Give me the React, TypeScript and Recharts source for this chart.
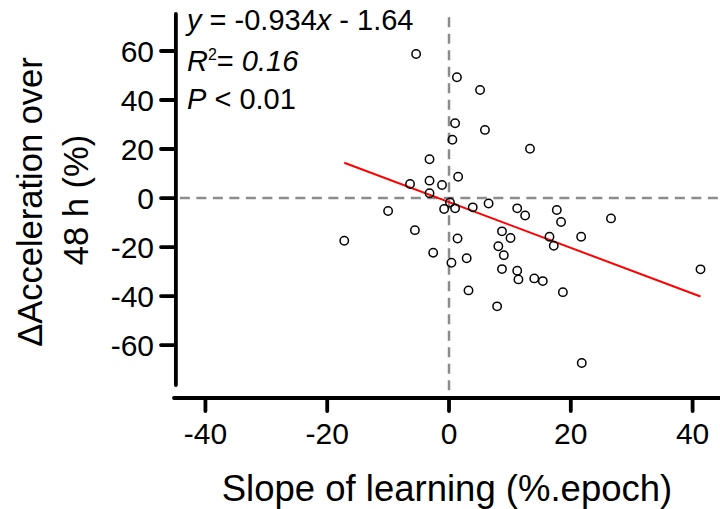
// Learning slope vs change in acceleration, scatter with fitted line (Recharts)

import { ScatterChart, Scatter, XAxis, YAxis, ReferenceLine, Customized } from 'recharts';

// slope of learning (%.epoch) for each subject
const slopeOfLearning = [
  -5.4, 1.3, 5.1, 1.0, 5.9, 0.55, 13.3, -3.2, 1.5, -6.4, -3.2, -1.15,
  -3.2, 0.16, -0.8, 1.0, 3.9, 6.5, -10.0, -17.2, -5.6, -2.6, 1.4, 0.4,
  2.9, 3.2, 11.2, 12.5, 8.7, 10.1, 8.1, 9.0, 8.7, 11.2, 11.4, 14.0,
  15.4, 7.9, 17.7, 18.4, 16.5, 17.2, 21.7, 18.7, 21.8, 26.6, 41.3,
];

// Δ acceleration over 48 h (%) for the same subjects
const accelerationChange = [
  58.8, 49.3, 44.1, 30.5, 27.8, 23.8, 20.1, 15.8, 8.7, 5.7, 7.1, 5.3,
  2.0, -1.8, -4.5, -4.2, -3.8, -2.2, -5.3, -17.4, -13.1, -22.3, -16.5, -26.4,
  -24.6, -37.7, -4.2, -7.1, -13.6, -16.3, -19.7, -23.3, -29.0, -29.7, -33.2, -32.8,
  -33.9, -44.2, -4.9, -9.8, -15.8, -19.5, -15.8, -38.4, -67.3, -8.3, -29.1,
];

// regression line ends (y = -0.934x - 1.64)
const fitX = [-17.2, 41.3];
const fitY = [14.4, -40.2];

const xTicks = [-40, -20, 0, 20, 40];
const yTicks = [-60, -40, -20, 0, 20, 40, 60];

const X_DOMAIN: [number, number] = [-45.16, 44.5];
const Y_DOMAIN: [number, number] = [-81.6, 75.1];

const FONT = '"Liberation Sans", Arial, sans-serif';
const DASH = '#8c8c8c';

const points = slopeOfLearning.map((x, i) => ({ x, y: accelerationChange[i] }));
const fitLine = fitX.map((x, i) => ({ x, y: fitY[i] }));

function FreeText() {
  return (
    <g fontFamily={FONT} fill="#000">
      <text transform="translate(42,202) rotate(-90)" textAnchor="middle" fontSize={34.5}>
        ΔAcceleration over
      </text>
      <text transform="translate(88,200) rotate(-90)" textAnchor="middle" fontSize={34.5}>
        48 h (%)
      </text>
      <text x={187} y={29.5} fontSize={29}>
        <tspan fontStyle="italic">y</tspan> = -0.934<tspan fontStyle="italic">x</tspan> - 1.64
      </text>
      <text x={187} y={71} fontSize={29}>
        <tspan fontStyle="italic">R</tspan>
        <tspan fontSize={16} dy={-11}>2</tspan>
        <tspan dy={11}>=</tspan>
        <tspan fontStyle="italic"> 0.16</tspan>
      </text>
      <text x={187} y={108.5} fontSize={29}>
        <tspan fontStyle="italic">P</tspan> &lt; 0.01
      </text>
    </g>
  );
}

export default function App() {
  const axisStroke = { stroke: '#000', strokeWidth: 3.8, strokeLinecap: 'round' as const };
  const tickStyle = { fontSize: 30, fill: '#000', fontFamily: FONT };

  return (
    <div style={{ position: 'absolute', left: 0, top: 0, width: 720, height: 509, background: '#fff' }}>
      <ScatterChart width={720} height={509} margin={{ top: 14, right: 0, bottom: 0, left: 0 }}>
        <XAxis
          type="number"
          dataKey="x"
          domain={X_DOMAIN}
          ticks={xTicks}
          allowDataOverflow
          height={111}
          axisLine={axisStroke}
          tickLine={axisStroke}
          tickSize={13}
          tickMargin={12}
          tick={tickStyle}
          label={{
            value: 'Slope of learning (%.epoch)',
            position: 'insideBottom',
            offset: 8,
            fontSize: 36.5,
            fill: '#000',
            fontFamily: FONT,
          }}
        />
        <YAxis
          type="number"
          dataKey="y"
          domain={Y_DOMAIN}
          ticks={yTicks}
          allowDataOverflow
          width={174}
          axisLine={false}
          tickLine={axisStroke}
          tickSize={13}
          tickMargin={7}
          tick={tickStyle}
        />
        {/* y axis line, stops short of the x axis */}
        <ReferenceLine
          segment={[{ x: -44.85, y: -76.3 }, { x: -44.85, y: 75.1 }]}
          stroke="#000"
          strokeWidth={3.8}
          strokeLinecap="round"
        />
        <ReferenceLine
          segment={[{ x: -44.2, y: 0 }, { x: 44.5, y: 0 }]}
          stroke={DASH}
          strokeWidth={2.5}
          strokeDasharray="10 6.5"
        />
        <ReferenceLine
          segment={[{ x: 0, y: -78.4 }, { x: 0, y: 75.1 }]}
          stroke={DASH}
          strokeWidth={2.5}
          strokeDasharray="10 6.5"
        />
        <Scatter
          data={fitLine}
          line={{ stroke: '#ff0000', strokeWidth: 2 }}
          shape={() => <g />}
          isAnimationActive={false}
        />
        <Scatter
          data={points}
          shape={(p: any) => (
            <circle cx={p.cx} cy={p.cy} r={4.2} fill="none" stroke="#000" strokeWidth={1.5} />
          )}
          isAnimationActive={false}
        />
        <Customized component={FreeText} />
      </ScatterChart>
    </div>
  );
}
